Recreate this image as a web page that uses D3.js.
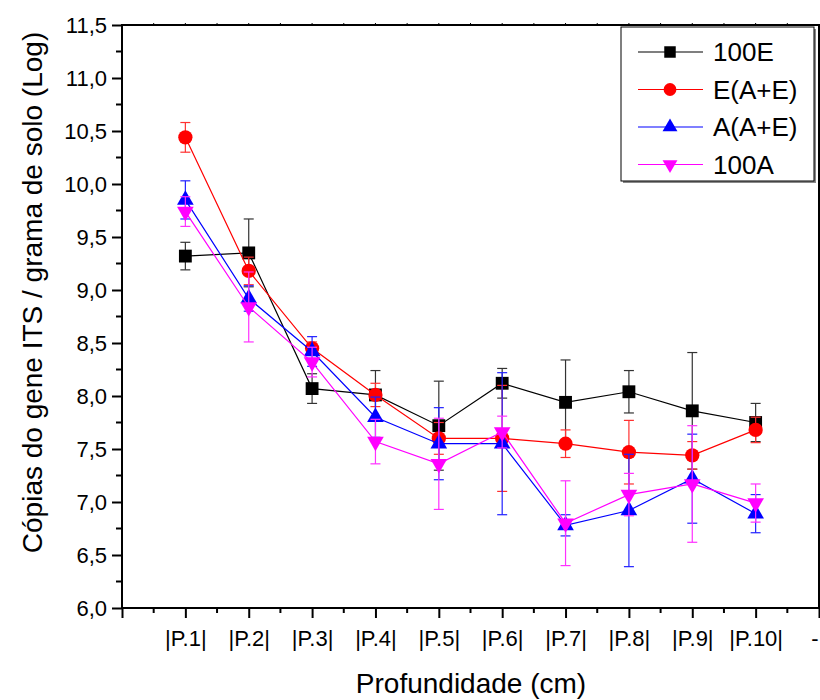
<!DOCTYPE html>
<html lang="pt">
<head>
<meta charset="UTF-8">
<title>Cópias do gene ITS</title>
<script src="https://d3js.org/d3.v7.min.js"></script>
<style>
  body { margin: 0; background: #fff; }
  svg { display: block; font-family: "Liberation Sans", Arial, sans-serif; }
</style>
</head>
<body>
<svg id="chart" width="820" height="700"></svg>
<script>
// dados
const categorias = ["|P.1|", "|P.2|", "|P.3|", "|P.4|", "|P.5|", "|P.6|", "|P.7|", "|P.8|", "|P.9|", "|P.10|"];
const yTicks = [6.0, 6.5, 7.0, 7.5, 8.0, 8.5, 9.0, 9.5, 10.0, 10.5, 11.0, 11.5];

const val100E = [9.32, 9.35, 8.07, 8.01, 7.72, 8.12, 7.94, 8.04, 7.86, 7.75];
const err100E = [0.13, 0.32, 0.14, 0.23, 0.42, 0.14, 0.40, 0.20, 0.55, 0.18];

const valEAE = [10.44, 9.18, 8.45, 8.01, 7.60, 7.60, 7.55, 7.47, 7.44, 7.68];
const errEAE = [0.14, 0.13, 0.06, 0.11, 0.15, 0.50, 0.13, 0.30, 0.13, 0.12];

const valAAE = [9.85, 8.92, 8.42, 7.80, 7.55, 7.55, 6.78, 6.92, 7.22, 6.89];
const errAAE = [0.18, 0.12, 0.14, 0.19, 0.34, 0.67, 0.10, 0.53, 0.42, 0.18];

const val100A = [9.74, 8.84, 8.32, 7.57, 7.36, 7.66, 6.80, 7.07, 7.17, 6.99];
const err100A = [0.14, 0.33, 0.14, 0.21, 0.43, 0.15, 0.40, 0.20, 0.55, 0.18];

const series = [
  { name: "100E",   values: val100E, errors: err100E, color: "#000000", err: "#333333", symbol: d3.symbolSquare,   size: 165 },
  { name: "E(A+E)", values: valEAE,  errors: errEAE,  color: "#ff0000", err: "#ff3030", symbol: d3.symbolCircle,   size: 160 },
  { name: "A(A+E)", values: valAAE,  errors: errAAE,  color: "#0000ff", err: "#2020ff", symbol: d3.symbolTriangle, size: 120, rot: 0 },
  { name: "100A",   values: val100A, errors: err100A, color: "#ff00ff", err: "#ff30ff", symbol: d3.symbolTriangle, size: 120, rot: 180 }
];

const svg = d3.select("#chart");
const mLeft = 122, mRight = 819, mTop = 25, mBottom = 608;

const x = d3.scaleLinear().domain([0, categorias.length + 1]).range([mLeft, mRight]);
const y = d3.scaleLinear().domain([6, 11.5]).range([mBottom, mTop]);

const fmt = v => d3.format(".1f")(v).replace(".", ",");

// moldura
svg.append("rect")
  .attr("x", mLeft).attr("y", mTop)
  .attr("width", mRight - mLeft).attr("height", mBottom - mTop)
  .attr("fill", "none").attr("stroke", "#000").attr("stroke-width", 2);

// eixo y
const yAxis = d3.axisLeft(y)
  .tickValues(yTicks)
  .tickSize(10)
  .tickPadding(5)
  .tickFormat(fmt);
const gy = svg.append("g").attr("transform", `translate(${mLeft},0)`).call(yAxis);
gy.select(".domain").remove();
gy.selectAll("line").attr("stroke-width", 2);
gy.selectAll("text").attr("font-size", 22).attr("font-family", "Liberation Sans, Arial, sans-serif");

const yMinor = d3.range(6.25, 11.5, 0.5);
svg.append("g").selectAll("line").data(yMinor).join("line")
  .attr("x1", mLeft - 6).attr("x2", mLeft)
  .attr("y1", d => y(d)).attr("y2", d => y(d))
  .attr("stroke", "#000").attr("stroke-width", 2);

// eixo x
const xAxis = d3.axisBottom(x)
  .tickValues(d3.range(0, categorias.length + 2))
  .tickSize(10)
  .tickPadding(12)
  .tickFormat(i => i === 0 ? "" : (i <= categorias.length ? categorias[i - 1] : "-"));
const gx = svg.append("g").attr("transform", `translate(0,${mBottom})`).call(xAxis);
gx.select(".domain").remove();
gx.selectAll("line").attr("stroke-width", 2);
gx.selectAll("text").attr("font-size", 22).attr("font-family", "Liberation Sans, Arial, sans-serif");
gx.selectAll("text").filter(d => d === categorias.length + 1).attr("text-anchor", "end").attr("dx", "-1");

const xMinor = d3.range(0.5, categorias.length + 1, 1);
svg.append("g").selectAll("line").data(xMinor).join("line")
  .attr("x1", d => x(d)).attr("x2", d => x(d))
  .attr("y1", mBottom).attr("y2", mBottom + 5)
  .attr("stroke", "#000").attr("stroke-width", 2);

// pequenos traços no topo
svg.append("g").selectAll("line").data(d3.range(0.5, categorias.length + 1, 0.5)).join("line")
  .attr("x1", d => x(d)).attr("x2", d => x(d))
  .attr("y1", mTop).attr("y2", mTop - 2)
  .attr("stroke", "#000").attr("stroke-width", 1);

// títulos
svg.append("text")
  .attr("transform", `translate(42,${(mTop + mBottom) / 2 - 24}) rotate(-90)`)
  .attr("text-anchor", "middle")
  .attr("font-size", 28)
  .text("Cópias do gene ITS / grama de solo (Log)");

svg.append("text")
  .attr("x", 471).attr("y", 693)
  .attr("text-anchor", "middle")
  .attr("font-size", 28)
  .text("Profundidade (cm)");

// séries
series.forEach(s => {
  const pts = s.values.map((v, i) => ({ i: i + 1, v: v, e: s.errors[i] }));
  const g = svg.append("g");

  g.append("path")
    .datum(pts)
    .attr("fill", "none")
    .attr("stroke", s.color)
    .attr("stroke-width", 1.2)
    .attr("d", d3.line().x(d => x(d.i)).y(d => y(d.v)));

  const eb = g.selectAll(".eb").data(pts).join("g").attr("stroke", s.err).attr("stroke-width", 1.2);
  eb.append("line")
    .attr("x1", d => x(d.i)).attr("x2", d => x(d.i))
    .attr("y1", d => y(d.v + d.e)).attr("y2", d => y(d.v - d.e));
  eb.append("line")
    .attr("x1", d => x(d.i) - 5).attr("x2", d => x(d.i) + 5)
    .attr("y1", d => y(d.v + d.e)).attr("y2", d => y(d.v + d.e));
  eb.append("line")
    .attr("x1", d => x(d.i) - 5).attr("x2", d => x(d.i) + 5)
    .attr("y1", d => y(d.v - d.e)).attr("y2", d => y(d.v - d.e));

  g.selectAll(".mk").data(pts).join("path")
    .attr("d", d3.symbol().type(s.symbol).size(s.size))
    .attr("transform", d => `translate(${x(d.i)},${y(d.v)}) rotate(${s.rot || 0})`)
    .attr("fill", s.color);
});

// legenda
const lg = svg.append("g").attr("transform", "translate(621,27)");
lg.append("rect").attr("x", 2).attr("y", 2).attr("width", 193).attr("height", 154).attr("fill", "#888");
lg.append("rect").attr("width", 193).attr("height", 154).attr("fill", "#fff").attr("stroke", "#000").attr("stroke-width", 1);

series.forEach((s, k) => {
  const ly = 25 + k * 37.5;
  lg.append("line").attr("x1", 17).attr("x2", 82).attr("y1", ly).attr("y2", ly)
    .attr("stroke", s.color).attr("stroke-width", 1.2);
  lg.append("path")
    .attr("d", d3.symbol().type(s.symbol).size(s.size * 0.8))
    .attr("transform", `translate(49,${ly}) rotate(${s.rot || 0})`)
    .attr("fill", s.color);
  lg.append("text").attr("x", 92).attr("y", ly + 9)
    .attr("font-size", 26)
    .text(s.name);
});
</script>
</body>
</html>
